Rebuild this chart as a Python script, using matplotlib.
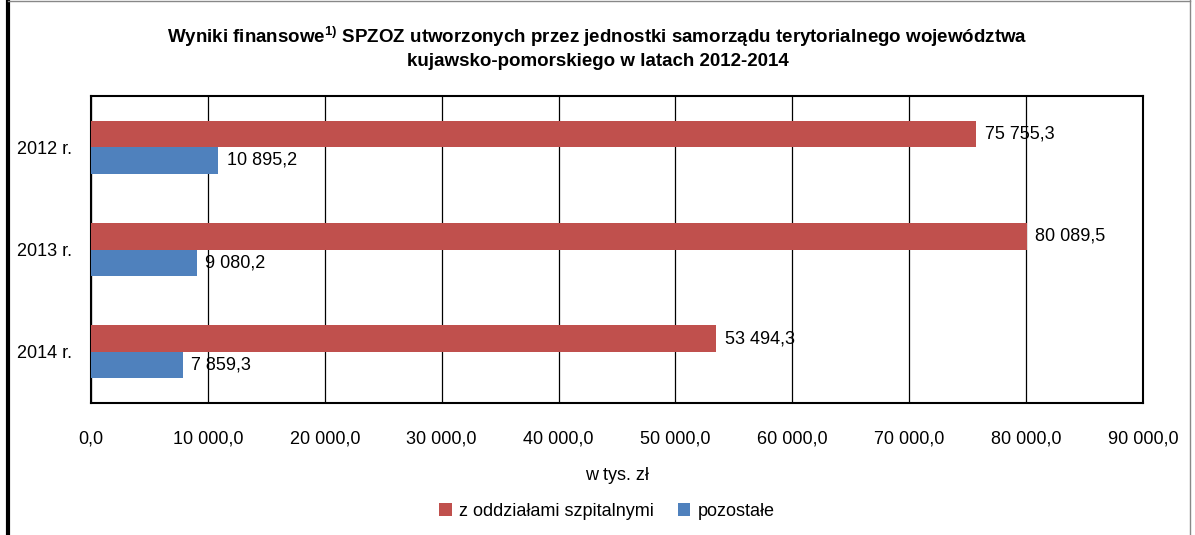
import matplotlib
matplotlib.use("Agg")
import matplotlib.pyplot as plt
from matplotlib import font_manager
from matplotlib.lines import Line2D
import numpy as np

categories = ["2012 r.", "2013 r.", "2014 r."]
szpitalne = [75755.3, 80089.5, 53494.3]
pozostale = [10895.2, 9080.2, 7859.3]
series_names = ["z oddziałami szpitalnymi", "pozostałe"]
xticks = [0, 10000, 20000, 30000, 40000, 50000, 60000, 70000, 80000, 90000]

avail = {f.name for f in font_manager.fontManager.ttflist}
fam = "Liberation Sans Narrow" if "Liberation Sans Narrow" in avail else "Liberation Sans"
plt.rcParams['font.family'] = [fam, 'DejaVu Sans']
plt.rcParams['mathtext.fontset'] = 'custom'
plt.rcParams['mathtext.rm'] = fam
plt.rcParams['mathtext.bf'] = fam + ':bold'

def fmt(v, dec=1):
    s = f"{v:,.{dec}f}"
    return s.replace(",", " ").replace(".", ",")

fig = plt.figure(figsize=(11.95, 5.35), dpi=100)
ax = fig.add_axes([91/1195, 1 - 403/535, (1143-91)/1195, (403-96)/535])

n = len(categories)
y = np.arange(n)
h = 0.26
red = "#C0504D"
blue = "#4F81BD"
ax.barh(y - h/2, szpitalne, height=h, color=red, zorder=3, label=series_names[0])
ax.barh(y + h/2, pozostale, height=h, color=blue, zorder=3, label=series_names[1])
for yi, v in zip(y, szpitalne):
    ax.annotate(fmt(v), (v, yi - h/2), xytext=(6, 0), textcoords="offset points",
                va="center", ha="left", fontsize=13, zorder=4)
for yi, v in zip(y, pozostale):
    ax.annotate(fmt(v), (v, yi + h/2), xytext=(6, 0), textcoords="offset points",
                va="center", ha="left", fontsize=13, zorder=4)

ax.set_ylim(n - 0.5, -0.5)
ax.set_xlim(0, 90000)
ax.set_yticks(y)
ax.set_yticklabels(categories, fontsize=13)
ax.set_xticks(xticks)
ax.set_xticklabels([fmt(v) for v in xticks], fontsize=13)
ax.tick_params(axis="both", length=0, pad=20)
ax.tick_params(axis="y", pad=14)
ax.xaxis.grid(True, color="#000000", linewidth=0.9, zorder=0)
for s in ax.spines.values():
    s.set_color("black")
    s.set_linewidth(1.5)
ax.set_xlabel("w tys. zł", fontsize=13, labelpad=14)

fig.text(0.5, 1 - 37/535, r"Wyniki finansowe$^{\mathbf{1)}}$ SPZOZ utworzonych przez jednostki samorządu terytorialnego województwa",
         ha="center", va="center", fontsize=13.5, fontweight="bold")
fig.text(0.5, 1 - 61/535, "kujawsko-pomorskiego w latach 2012-2014",
         ha="center", va="center", fontsize=13.5, fontweight="bold")

handles, labels = ax.get_legend_handles_labels()
fig.legend(handles, labels, loc="center", bbox_to_anchor=(607/1195, 1 - 511/535), ncol=2,
           frameon=False, fontsize=13, handlelength=0.7, handleheight=0.7,
           handletextpad=0.4, columnspacing=1.3)

# outer frame
fig.add_artist(Line2D([8/1195, 8/1195], [0, 1], transform=fig.transFigure, color="black", linewidth=3))
fig.add_artist(Line2D([8/1195, 1190/1195], [1 - 1/535, 1 - 1/535], transform=fig.transFigure, color="#888888", linewidth=1))
fig.add_artist(Line2D([1190/1195, 1190/1195], [0, 1], transform=fig.transFigure, color="#888888", linewidth=1))

fig.savefig("out.png", dpi=100)
